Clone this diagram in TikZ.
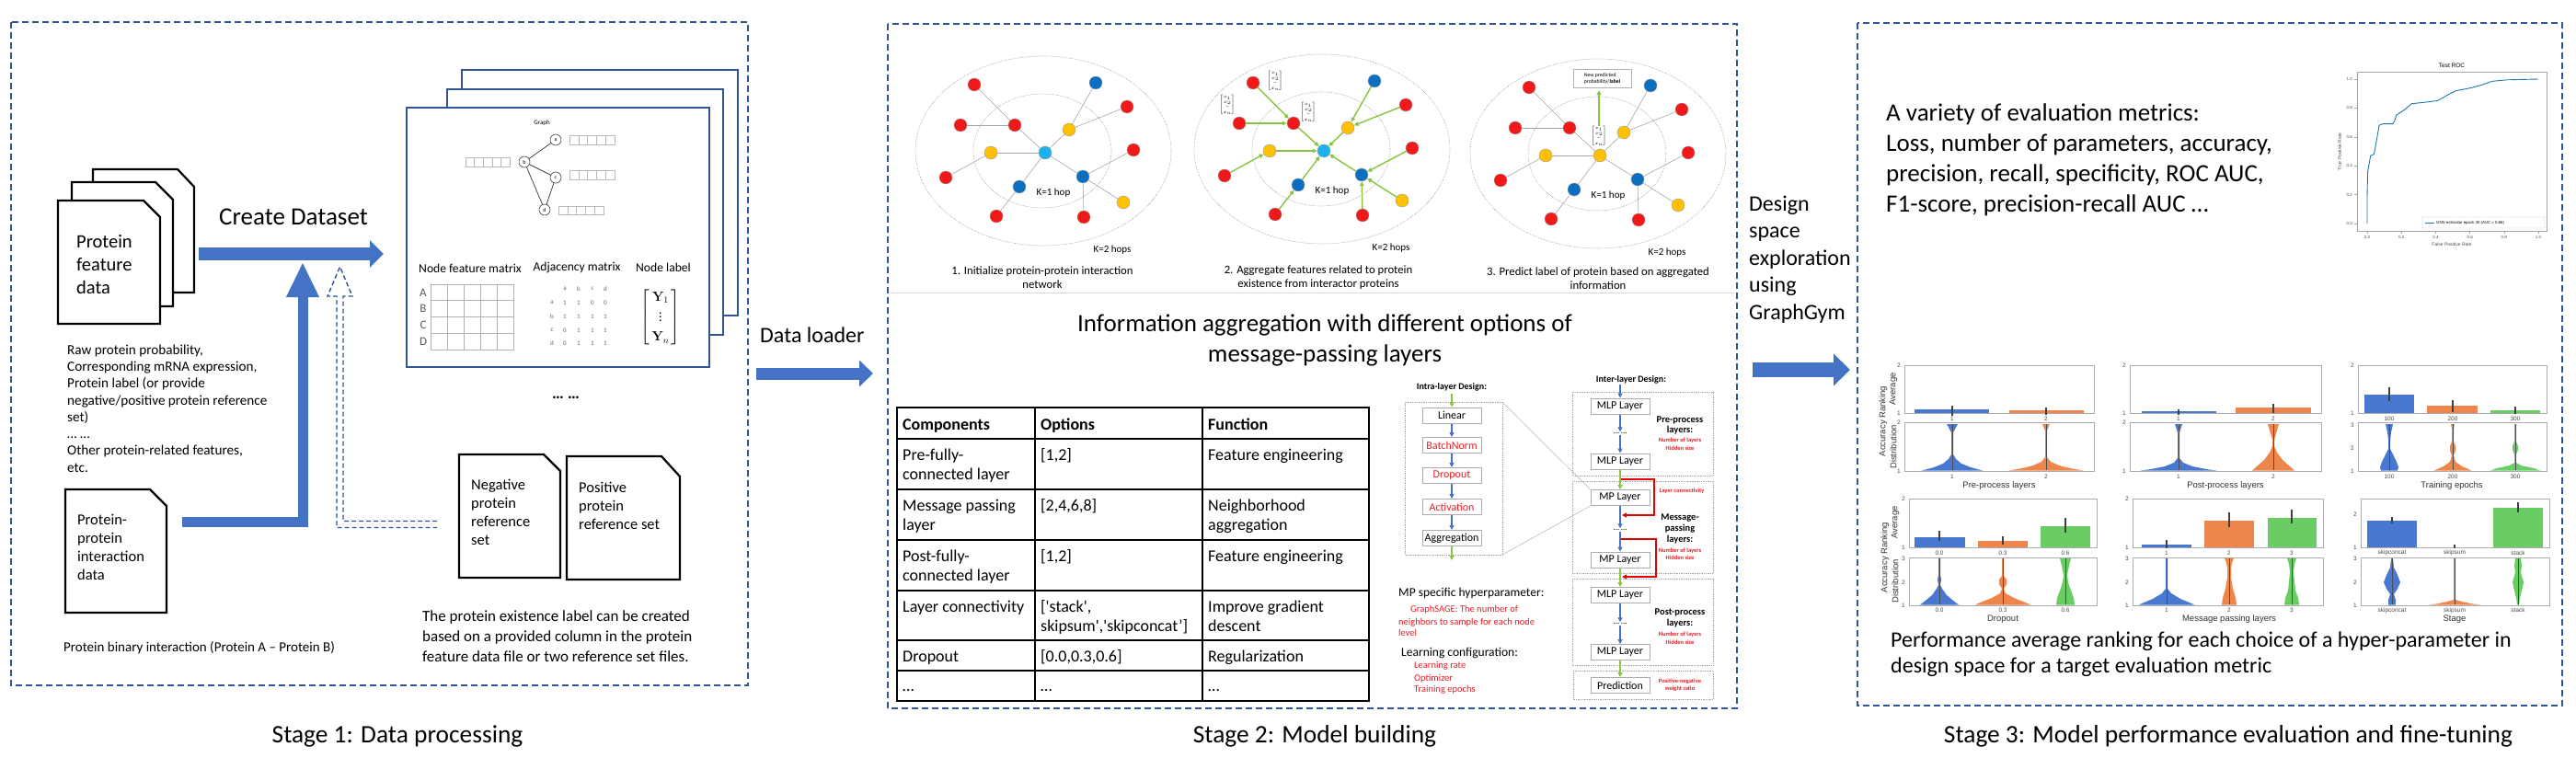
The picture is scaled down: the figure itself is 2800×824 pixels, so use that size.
\documentclass[tikz,border=0pt]{standalone}
\usepackage{amsmath}
\usepackage[no-math]{fontspec}
\setmainfont{Carlito}
\newfontfamily\plotfont{Liberation Sans}
\usetikzlibrary{arrows.meta,calc}
\definecolor{dblue}{HTML}{2F5597}
\definecolor{ablue}{HTML}{4472C4}
\definecolor{nred}{HTML}{F01818}
\definecolor{norange}{HTML}{FFC000}
\definecolor{nblue}{HTML}{0B6FC1}
\definecolor{ncyan}{HTML}{1FB1EF}
\definecolor{ngreen}{HTML}{88C540}
\definecolor{pblue}{HTML}{4878D0}
\definecolor{porange}{HTML}{EE854A}
\definecolor{pgreen}{HTML}{6ACC64}
\definecolor{rtxt}{HTML}{E41E26}
\definecolor{roc}{HTML}{1F77B4}
\newcommand\fsz[2]{\fontsize{#1}{#2}\selectfont}
\newcommand\docshape[6]{\draw[docline] (#1,#2) -- (#5,#2) -- (#3,#6) -- (#3,#4) -- (#1,#4) -- cycle;}
\newcommand\fbar[4]{%
  \draw[gray!55, line width=0.7pt] (#1,#2) rectangle (#3,#4);
  \foreach \fbi in {1,2,3,4} {\draw[gray!55, line width=0.5pt] ({#1+\fbi*(#3-#1)/5},#2) -- ({#1+\fbi*(#3-#1)/5},#4);}}
\newcommand\vio[4]{%
  \fill[#2] (#1,#3) \foreach \ww/\yy in {#4} { -- ({#1+\ww},\yy) } -- cycle;
  \fill[#2] (#1,#3) \foreach \ww/\yy in {#4} { -- ({#1-\ww},\yy) } -- cycle;}
\newcommand\fvec{\ensuremath{\left[\begin{array}{@{}c@{}}x_1\\ x_2\\ -\\ x_n\end{array}\right]}}
\newcommand\ppigraph[4]{%
\begin{scope}[shift={(#2,#3)}]
 \draw[hopring] (-2,-2) ellipse [x radius=139pt, y radius=103pt];
 \draw[hopring] (-3,-2) ellipse [x radius=75pt, y radius=62pt];
 \node[pn, fill=#4] (#1c) at (0,0) {};
 \node[pn, fill=nred] (#1R1) at (-77,-74) {};
 \node[pn, fill=nred] (#1R2) at (-92,-30) {};
 \node[pn, fill=nred] (#1R3) at (-33,-30) {};
 \node[pn, fill=norange] (#1O1) at (26,-25) {};
 \node[pn, fill=nblue] (#1B1) at (55,-76) {};
 \node[pn, fill=nred] (#1R4) at (89,-50) {};
 \node[pn, fill=norange] (#1O2) at (-59,0) {};
 \node[pn, fill=nred] (#1R5) at (-108,27) {};
 \node[pn, fill=nblue] (#1B2) at (-28,37) {};
 \node[pn, fill=nred] (#1R6) at (-53,69) {};
 \node[pn, fill=nblue] (#1B3) at (41,26) {};
 \node[pn, fill=nred] (#1R7) at (96,-3) {};
 \node[pn, fill=norange] (#1O3) at (85,54) {};
 \node[pn, fill=nred] (#1R8) at (42,70) {};
 \node[font=\fsz{11}{13}, inner sep=0] (#1k1) at (9,44) {K=1 hop};
 \node[font=\fsz{11}{13}, inner sep=0] (#1k2) at (73,106) {K=2 hops};
\end{scope}}
\newcommand\ppiedges[2]{\foreach \ppA/\ppB in {R3/c,R1/R3,R2/R3,O1/c,B1/O1,R4/O1,O2/c,R5/O2,B2/c,R6/B2,B3/c,R7/B3,O3/B3,R8/B3} {\draw[#2] (#1\ppA) -- (#1\ppB);}}
\begin{document}
\begin{tikzpicture}[x=1pt,y=-1pt,
  stagebox/.style={draw=dblue, line width=2pt, dash pattern=on 7pt off 4pt},
  stagelab/.style={font=\fsz{27.4}{32}, inner sep=0},
  docline/.style={draw=black, line width=2.2pt, fill=white, line join=miter},
  stackr/.style={draw=dblue, line width=2pt, fill=white, rectangle, inner sep=0},
  gnode/.style={circle, draw=black!75, line width=0.6pt, fill=white, minimum size=12pt, inner sep=0, font=\fsz{6}{7}},
  adjf/.style={font=\fsz{7}{8}, text=black!60, inner sep=0},
  pn/.style={circle, minimum size=14pt, inner sep=0, draw=black!40, line width=0.4pt},
  hopring/.style={draw=gray!80, line width=0.6pt, densely dotted},
  capt/.style={font=\fsz{12.7}{15}, align=center, inner sep=0},
  lbox/.style={rectangle, draw=gray!65, line width=1pt, fill=white, minimum width=64pt, minimum height=17pt, inner sep=0, font=\fsz{12}{14}},
  dotbox/.style={draw=gray!70, line width=0.7pt, densely dotted},
  garr/.style={draw=ngreen, line width=1.6pt, -{Triangle[length=5pt,width=5pt]}},
  barr/.style={draw=ablue, line width=1.6pt, -{Triangle[length=5pt,width=5pt]}},
  rarr/.style={draw=red!90!black, line width=1.5pt, -{Triangle[length=5pt,width=5pt]}},
  grp/.style={font=\bfseries\fsz{10.5}{11.8}, align=center, inner sep=0},
  rsmall/.style={font=\bfseries\fsz{6.5}{8.5}, text=rtxt, align=center, inner sep=0},
  dotsn/.style={font=\fsz{9}{10}, inner sep=1pt},
  tcell/.style={anchor=base west, inner sep=0, font=\fsz{18}{21}},
  thead/.style={anchor=base west, inner sep=0, font=\bfseries\fsz{18}{21}},
  rtx/.style={anchor=base west, inner sep=0, font=\fsz{10.5}{12.5}, text=rtxt},
  ptick/.style={font=\plotfont\fsz{6.5}{7}, text=black!70, inner sep=0},
  plab/.style={font=\plotfont\fsz{9.5}{11}, text=black!80, inner sep=0},
  pframe/.style={draw=gray!65, line width=1pt},
  errb/.style={draw=black!75, line width=1.1pt},
  vline/.style={draw=black!70, line width=0.5pt},
  rtick/.style={font=\plotfont\fsz{4.5}{5}, text=black!70, inner sep=0}
]
\fill[white] (0,0) rectangle (2800,824);
\useasboundingbox (0,0) rectangle (2800,824);

%================ Stage 1 =================
\draw[stagebox] (12,24) rectangle (813,745);
\node[stagelab] (s1lab) at (432,800) {Stage 1: Data processing};
\docshape{101}{184}{211}{318}{193}{203}
\docshape{78}{198}{188}{333}{169}{217}
\docshape{63}{218}{174}{352}{156}{236}
\node[anchor=west, inner sep=0, align=left, font=\fsz{20.5}{25}] (pfd) at (83,288) {Protein\\feature\\data};
\node[font=\fsz{27}{32}, inner sep=0] (cds) at (319,236) {Create Dataset};
\coordinate (cdA) at (216,276); \coordinate (cdB) at (417,276);
\draw[ablue, line width=14pt, -{Triangle[length=15pt,width=29pt]}] (cdA) -- (cdB);
\node[anchor=west, inner sep=0, align=left, font=\fsz{15.2}{18.3}] (raw) at (73,444) {Raw protein probability,\\Corresponding mRNA expression,\\Protein label (or provide\\negative/positive protein reference\\set)\\… …\\Other protein-related features,\\etc.};
\docshape{71}{532}{181}{666}{163}{550}
\node[anchor=west, inner sep=0, align=left, font=\fsz{16.5}{20}] (ppi) at (84,595) {Protein-\\protein\\interaction\\data};
\coordinate (ppA) at (198,567); \coordinate (ppB) at (329,567); \coordinate (ppC) at (329,285);
\draw[ablue, line width=11pt, -{Triangle[length=38pt,width=33pt]}] (ppA) -- (ppB) -- (ppC);
\coordinate (nrA) at (475,570);
\draw[dblue, line width=1.4pt, dash pattern=on 5pt off 3pt] ($(nrA)+(0,-3.5)$) -- (373,566.5) -- (373,322) -- (383,322) -- (369.5,290) -- (356,322) -- (366,322) -- (366,573.5) -- ($(nrA)+(0,3.5)$);
\node[anchor=west, inner sep=0, font=\fsz{15}{18}] (pbi) at (69,704) {Protein binary interaction (Protein A – Protein B)};

\node[stackr, minimum width=300pt, minimum height=267pt, anchor=north west] (stk3) at (501,75) {};
\node[stackr, minimum width=300pt, minimum height=267pt, anchor=north west] (stk2) at (485,96) {};
\node[stackr, minimum width=329pt, minimum height=282pt, anchor=north west] (stk1) at (441,116) {};
\node[font=\fsz{7}{8}, inner sep=0] (glab) at (589,134) {Graph};
\node[gnode] (na) at (604,152) {a};
\node[gnode] (nb) at (570,176) {b};
\node[gnode] (nc) at (604,193) {c};
\node[gnode] (nd) at (592,228) {d};
\draw[black!80, line width=0.7pt] (nb) -- (na) (nb) -- (nc) (nb) -- (nd) (nc) -- (nd);
\fbar{619}{147}{668}{157} \fbar{506}{171}{554}{181} \fbar{619}{185}{668}{195} \fbar{607}{224}{656}{233}
\node[font=\fsz{13.6}{16}, inner sep=0] (nfm) at (511,292) {Node feature matrix};
\node[font=\fsz{13.6}{16}, inner sep=0] (adjm) at (627,291) {Adjacency matrix};
\node[font=\fsz{13.6}{16}, inner sep=0] (nlab) at (721,291) {Node label};
\draw[gray!60, line width=0.8pt] (468,309) rectangle (558,380);
\foreach \fbi in {1,2,3,4} {\draw[gray!60, line width=0.8pt] ({468+\fbi*18},309) -- ({468+\fbi*18},380);}
\foreach \fbi in {1,2,3} {\draw[gray!60, line width=0.8pt] (468,{309+\fbi*17.75}) -- (558,{309+\fbi*17.75});}
\foreach \yy/\rl in {318/A,335.5/B,353.5/C,371/D} {\node[font=\fsz{13}{15}, text=black!65, inner sep=0] at (460,\yy) {\rl};}
\foreach \xx/\rl in {614/a,629/b,644/c,658/d} {\node[adjf] at (\xx,314) {\rl};}
\foreach \yy/\rl/\va/\vb/\vc/\vd in {329/a/1/1/0/0, 344/b/1/1/1/1, 359/c/0/1/1/1, 373/d/0/1/1/1} {
  \node[adjf] at (600,\yy) {\rl}; \node[adjf] at (614,\yy) {\va}; \node[adjf] at (629,\yy) {\vb};
  \node[adjf] at (644,\yy) {\vc}; \node[adjf] at (658,\yy) {\vd};}
\node[font=\fsz{14}{17}, inner sep=0] (ymat) at (718,345) {$\renewcommand\arraystretch{1.25}\left[\begin{array}{@{\,}c@{\,}}\mathbf{Y}_1\\ \vdots\\ \mathbf{Y}_n\end{array}\right]$};
\node[font=\bfseries\fsz{18}{20}, inner sep=0] (sdots) at (615,432) {… …};
\docshape{499}{494}{609}{628}{591}{512}
\node[anchor=west, inner sep=0, align=left, font=\fsz{16.5}{20}] (negt) at (512,557) {Negative\\protein\\reference\\set};
\docshape{616}{496}{739}{630}{719}{518}
\node[anchor=west, inner sep=0, align=left, font=\fsz{16.5}{20}] (post) at (629,550) {Positive\\protein\\reference set};
\node[anchor=west, inner sep=0, align=left, font=\fsz{17}{22}] (lbltxt) at (459,692) {The protein existence label can be created\\based on a provided column in the protein\\feature data file or two reference set files.};

% Data loader
\node[anchor=west, inner sep=0, font=\fsz{24}{28}] (dl) at (826,364) {Data loader};
\coordinate (dlA) at (822,406); \coordinate (dlB) at (949,406);
\draw[ablue, line width=13pt, -{Triangle[length=15pt,width=28pt]}] (dlA) -- (dlB);

%================ Stage 2 =================
\draw[stagebox] (965,26) rectangle (1888,770);
\node[stagelab] (s2lab) at (1429,800) {Stage 2: Model building};
\ppigraph{ga}{1136}{166}{ncyan}
\ppiedges{ga}{gray!70, line width=0.6pt}
\ppigraph{gb}{1439}{164}{ncyan}
\ppiedges{gb}{ngreen, line width=1.4pt, -{Triangle[length=5pt,width=4.5pt]}}
\ppigraph{gc}{1739}{169}{norange}
\ppiedges{gc}{gray!70, line width=0.6pt}
\node[font=\fsz{5}{5.5}, inner sep=0, fill=white] (gbv1) at (1334,114) {\fvec};
\node[font=\fsz{5}{5.5}, inner sep=0, fill=white] (gbv2) at (1386,88) {\fvec};
\node[font=\fsz{5}{5.5}, inner sep=0, fill=white] (gbv3) at (1422,122) {\fvec};
\node[font=\fsz{5}{5.5}, inner sep=0, fill=white] (gcv) at (1738,148) {\fvec};
\node[draw=gray!60, line width=0.5pt, minimum width=63pt, minimum height=20pt, inner sep=1pt, align=left, font=\fsz{5.8}{7}] (gcl) at (1741.5,85) {New predicted\\probability/\textbf{label}};
\draw[garr] (gcv.north) -- ($(gcv.north |- gcl.south)+(0,3)$);
\node[capt] (cap1) at (1133,301.5) {1. Initialize protein-protein interaction\\network};
\node[capt] (cap2) at (1433,301.5) {2. Aggregate features related to protein\\existence from interactor proteins};
\node[capt] (cap3) at (1737,302.5) {3. Predict label of protein based on aggregated\\information};
\draw[gray!30, line width=1pt] (968,318) -- (1886,318);
\node[align=center, font=\fsz{27}{33}, inner sep=0] (title2) at (1440,370) {Information aggregation with different options of\\message-passing layers};

% table
\draw[black, line width=1.8pt] (975,443) rectangle (1488,762);
\foreach \yy in {477,532,587,642,696,729} {\draw[black, line width=1.5pt] (975,\yy) -- (1488,\yy);}
\draw[black, line width=1.5pt] (1125,443) -- (1125,762) (1307,443) -- (1307,762);
\node[thead] (th1) at (981,467) {Components};
\node[thead] (th2) at (1131,467) {Options};
\node[thead] (th3) at (1313,467) {Function};
\node[tcell] (t11) at (981,500) {Pre-fully-};
\node[tcell] (t11b) at (981,521.5) {connected layer};
\node[tcell] (t12) at (1131,500) {[1,2]};
\node[tcell] (t13) at (1313,500) {Feature engineering};
\node[tcell] (t21) at (981,555) {Message passing};
\node[tcell] (t21b) at (981,576.5) {layer};
\node[tcell] (t22) at (1131,555) {[2,4,6,8]};
\node[tcell] (t23) at (1313,555) {Neighborhood};
\node[tcell] (t23b) at (1313,576.5) {aggregation};
\node[tcell] (t31) at (981,610) {Post-fully-};
\node[tcell] (t31b) at (981,631.5) {connected layer};
\node[tcell] (t32) at (1131,610) {[1,2]};
\node[tcell] (t33) at (1313,610) {Feature engineering};
\node[tcell] (t41) at (981,665) {Layer connectivity};
\node[tcell] (t42) at (1131,665) {[\textquotesingle stack\textquotesingle ,};
\node[tcell] (t42b) at (1131,686.5) {skipsum\textquotesingle ,\textquotesingle skipconcat’]};
\node[tcell] (t43) at (1313,665) {Improve gradient};
\node[tcell] (t43b) at (1313,686.5) {descent};
\node[tcell] (t51) at (981,719) {Dropout};
\node[tcell] (t52) at (1131,719) {[0.0,0.3,0.6]};
\node[tcell] (t53) at (1313,719) {Regularization};
\node[tcell] (t61) at (981,751) {…};
\node[tcell] (t62) at (1131,751) {…};
\node[tcell] (t63) at (1313,751) {…};

% intra-layer design
\node[font=\bfseries\fsz{10}{12}, inner sep=0] (intraT) at (1578,421) {Intra-layer Design:};
\draw[dotbox] (1527,437) rectangle (1633,603);
\node[lbox] (lin) at (1578,451.5) {Linear};
\node[lbox, text=rtxt] (bn) at (1578,484) {BatchNorm};
\node[lbox, text=rtxt] (dp) at (1578,517) {Dropout};
\node[lbox, text=rtxt] (act) at (1578,551) {Activation};
\node[lbox] (agg) at (1578,585) {Aggregation};
\coordinate (intraIn) at (1578,428); \coordinate (intraOut) at (1578,609);
\draw[garr] (intraIn) -- (lin);
\draw[barr] (lin) -- (bn);
\draw[barr] (bn) -- (dp);
\draw[barr] (dp) -- (act);
\draw[barr] (act) -- (agg);
\draw[garr] (agg) -- (intraOut);

% inter-layer design
\node[font=\bfseries\fsz{10}{12}, inner sep=0] (interT) at (1773,413) {Inter-layer Design:};
\draw[dotbox] (1709,426) rectangle (1862,517);
\draw[dotbox] (1709,523) rectangle (1862,623);
\draw[dotbox] (1709,629) rectangle (1862,723);
\draw[dotbox] (1710,729) rectangle (1862,760);
\node[lbox] (mlp1) at (1761,441.5) {MLP Layer};
\node[dotsn] (d1) at (1761,471) {… …};
\node[lbox] (mlp2) at (1761,501.5) {MLP Layer};
\node[lbox] (mp1) at (1761,541) {MP Layer};
\node[dotsn] (d2) at (1761,576) {… …};
\node[lbox] (mp2) at (1761,608.5) {MP Layer};
\node[lbox] (mlp3) at (1761,647) {MLP Layer};
\node[dotsn] (d3) at (1761,678) {… …};
\node[lbox] (mlp4) at (1761,709) {MLP Layer};
\node[lbox] (pred) at (1761,745) {Prediction};
\coordinate (interIn) at (1761,418);
\draw[barr] (interIn) -- (mlp1);
\draw[barr] (mlp1) -- (d1); \draw[barr] (d1) -- (mlp2);
\draw[garr] (mlp2) -- (mp1);
\draw[barr] (mp1) -- (d2); \draw[barr] (d2) -- (mp2);
\draw[garr] (mp2) -- (mlp3);
\draw[barr] (mlp3) -- (d3); \draw[barr] (d3) -- (mlp4);
\draw[garr] (mlp4) -- (pred);
\coordinate (rc1) at (1762,521); \coordinate (rc2) at (1763,560);
\draw[rarr] (rc1) -- (1798,521) -- (1798,560) -- (rc2);
\coordinate (rc3) at (1762,586); \coordinate (rc4) at (1763,627);
\draw[rarr] (rc3) -- (1800,586) -- (1800,627) -- (rc4);
\draw[gray!60, line width=0.5pt] (1633,437) -- (mp1.north west);
\draw[gray!60, line width=0.5pt] (1633,603) -- (mp1.south west);
\node[grp] (preL) at (1826,462.5) {Pre-process\\layers:};
\node[rsmall] (preR) at (1826,482.5) {Number of layers\\Hidden size};
\node[rsmall] (lcon) at (1828,534) {Layer connectivity};
\node[grp] (mpL) at (1826,575) {Message-\\passing\\layers:};
\node[rsmall] (mpR) at (1826,602) {Number of layers\\Hidden size};
\node[grp] (postL) at (1826,672) {Post-process\\layers:};
\node[rsmall] (postR) at (1826,693.5) {Number of layers\\Hidden size};
\node[rsmall] (predR) at (1826,745) {Positive-negative\\weight ratio};
\node[anchor=base west, inner sep=0, font=\fsz{13.5}{16}] (mph) at (1520,648.5) {MP specific hyperparameter:};
\node[rtx] (mph1) at (1533,665.5) {GraphSAGE: The number of};
\node[rtx] (mph2) at (1520,679) {neighbors to sample for each node};
\node[rtx] (mph3) at (1520,691) {level};
\node[anchor=base west, inner sep=0, font=\fsz{13.5}{16}] (lc) at (1523,713) {Learning configuration:};
\node[rtx] (lc1) at (1537,726.5) {Learning rate};
\node[rtx] (lc2) at (1537,740) {Optimizer};
\node[rtx] (lc3) at (1537,752.5) {Training epochs};

% Design space arrow
\node[anchor=west, inner sep=0, align=left, font=\fsz{24}{29.5}] (dse) at (1901,282) {Design\\space\\exploration\\using\\GraphGym};
\coordinate (dsA) at (1905,402); \coordinate (dsB) at (2011,402);
\draw[ablue, line width=16pt, -{Triangle[length=18pt,width=34pt]}] (dsA) -- (dsB);

%================ Stage 3 =================
\draw[stagebox] (2019,25) rectangle (2785,767);
\node[stagelab] (s3lab) at (2422,800) {Stage 3: Model performance evaluation and fine-tuning};
\node[anchor=west, inner sep=0, align=left, font=\fsz{27}{33}] (metrics) at (2050,174) {A variety of evaluation metrics:\\Loss, number of parameters, accuracy,\\precision, recall, specificity, ROC AUC,\\F1-score, precision-recall AUC …};
% ROC
\draw[gray!70, line width=0.8pt] (2562,78) rectangle (2768,251);
\node[font=\plotfont\fsz{6.5}{7}, inner sep=0] (roct) at (2665,71) {Test ROC};
\foreach \vv/\lb in {0/0.0,0.2/0.2,0.4/0.4,0.6/0.6,0.8/0.8,1/1.0} {
  \draw[gray!70, line width=0.5pt] (2559,{243-157*\vv}) -- (2562,{243-157*\vv});
  \node[rtick, anchor=east] at (2557,{243-157*\vv}) {\lb};
  \draw[gray!70, line width=0.5pt] ({2573+186*\vv},251) -- ({2573+186*\vv},254);
  \node[rtick] at ({2573+186*\vv},258) {\lb};}
\node[rtick, font=\plotfont\fsz{5}{6}] (rocx) at (2665,266) {False Positive Rate};
\node[rtick, font=\plotfont\fsz{5}{6}, rotate=90] (rocy) at (2543,165) {True Positive Rate};
\begin{scope}[shift={(2573,243)}, x=186pt, y=157pt]
\draw[roc, line width=0.9pt] (0,0) -- (0,.19) -- (0.003,.36) -- (.02,.47) -- (.04,.48) -- (.06,.61) -- (.07,.68) -- (.09,.69) -- (.15,.69) -- (.16,.71) -- (.17,.75) -- (.22,.79) -- (.26,.83) -- (.34,.84) -- (.41,.85) -- (.47,.89) -- (.52,.92) -- (.61,.94) -- (.67,.96) -- (.73,.985) -- (.82,.995) -- (1,1);
\end{scope}
\draw[gray!50, line width=0.4pt, rounded corners=1pt, fill=white] (2633,236) rectangle (2766,248);
\draw[roc, line width=0.8pt] (2636,242) -- (2646,242);
\node[anchor=west, inner sep=0, font=\plotfont\fsz{4.3}{5}] (rocleg) at (2648,242) {GNN estimator epoch 30 (AUC = 0.86)};

% ---- plots row 1
\foreach \fx/\fy/\gx/\gy in {2070/397/2276/449, 2315/397/2523/449, 2563/397/2768/449, 2070/459/2276/512, 2315/459/2523/512, 2563/459/2768/512, 2075/542/2279/595, 2318/542/2525/595, 2566/542/2771/595, 2075/606/2279/658, 2318/606/2525/658, 2566/606/2771/658} {\draw[pframe] (\fx,\fy) rectangle (\gx,\gy);}
% bars
\fill[pblue] (2081,445) rectangle (2162,449); \fill[porange] (2184,446) rectangle (2265,449);
\draw[errb] (2122,441) -- (2122,452); \draw[errb] (2224,443) -- (2224,451);
\fill[pblue] (2328,447) rectangle (2409,449); \fill[porange] (2430,443) rectangle (2512,449);
\draw[errb] (2368,445) -- (2368,451); \draw[errb] (2471,439) -- (2471,449);
\fill[pblue] (2570,429) rectangle (2624,449); \fill[porange] (2638,441) rectangle (2693,449); \fill[pgreen] (2707,446) rectangle (2761,449);
\draw[errb] (2597,421) -- (2597,436); \draw[errb] (2666,435) -- (2666,448); \draw[errb] (2734,442) -- (2734,450);
% violins row 1
\vio{2122}{pblue}{461}{6/461, 1/470, 1/494, 4/499, 10/504, 20/508, 33/511.5, 0/511.5}
\vio{2224}{porange}{461}{4/461, 1/468, 1/497, 5/502, 14/506, 26/509, 40/511.5, 0/511.5}
\vio{2368}{pblue}{461}{4/461, 1/470, 1/498, 5/503, 15/507, 30/510, 41/511.5, 0/511.5}
\vio{2471}{porange}{461}{6/461, 1/478, 1/485, 4/492, 10/500, 18/507, 23/511.5, 0/511.5}
\vio{2597}{pblue}{461}{4/461, 2/470, 1/478, 1/488, 4/494, 8/502, 10/508, 9/511.5, 0/511.5}
\vio{2666}{porange}{461}{2/461, 1/466, 1/480, 3/485, 3/490, 1/495, 3/502, 10/507, 17/510, 20/511.5, 0/511.5}
\vio{2734}{pgreen}{461}{1/461, 1/480, 3/485, 3/489, 1/494, 1/503, 6/506, 20/509, 27/511.5, 0/511.5}
\foreach \xx in {2122,2224,2368,2471,2597,2666,2734} {\draw[vline] (\xx,461) -- (\xx,511);}
% bars row 2
\fill[pblue] (2081,584) rectangle (2136,595); \fill[porange] (2150,588) rectangle (2204,595); \fill[pgreen] (2218,572) rectangle (2272,595);
\draw[errb] (2108,577) -- (2108,588); \draw[errb] (2177,583) -- (2177,592); \draw[errb] (2245,563) -- (2245,579);
\fill[pblue] (2328,592) rectangle (2382,595); \fill[porange] (2396,566) rectangle (2450,595); \fill[pgreen] (2465,563) rectangle (2518,595);
\draw[errb] (2355,587) -- (2355,596); \draw[errb] (2423,557) -- (2423,573); \draw[errb] (2491,554) -- (2491,569);
\fill[pblue] (2573,566) rectangle (2627,595); \fill[pgreen] (2710,552) rectangle (2764,595);
\draw[errb] (2600,562) -- (2600,569); \draw[errb] (2668,592) -- (2668,596); \draw[errb] (2737,546) -- (2737,557);
% violins row 2
\vio{2108}{pblue}{607}{1/607, 1/625, 2/630, 1/636, 3/640, 8/647, 14/652, 21/657.5, 0/657.5}
\vio{2177}{porange}{607}{1/607, 1/626, 4/630, 4/635, 1/640, 3/645, 12/650, 27/656, 30/657.5, 0/657.5}
\vio{2245}{pgreen}{607}{6/607, 4/615, 2/625, 3/633, 6/642, 9/650, 10/657.5, 0/657.5}
\vio{2355}{pblue}{607}{1/607, 1/640, 5/645, 15/651, 27/656, 30/657.5, 0/657.5}
\vio{2423}{porange}{607}{5/607, 3/612, 2/618, 2/628, 4/640, 7/650, 8/657.5, 0/657.5}
\vio{2491}{pgreen}{607}{5/607, 3/613, 2/622, 3/632, 4/642, 7/650, 8/657.5, 0/657.5}
\vio{2600}{pblue}{607}{1/607, 2/617, 6/625, 9/633, 6/640, 2/646, 4/652, 4/657.5, 0/657.5}
\vio{2668}{porange}{607}{1/607, 1/652, 8/654, 20/656.5, 27/657.5, 0/657.5}
\vio{2737}{pgreen}{607}{3/607, 4/615, 3/622, 6/633, 4/642, 2/650, 1/657.5, 0/657.5}
\foreach \xx in {2108,2177,2245,2355,2423,2491,2600,2668,2737} {\draw[vline] (\xx,607) -- (\xx,657);}
% tick labels
\foreach \xx/\lb in {2122/1,2224/2,2368/1,2471/2,2597/100,2666/200,2734/300} {\node[ptick] at (\xx,455) {\lb}; \node[ptick] at (\xx,518) {\lb};}
\foreach \xx/\lb in {2108/0.0,2177/0.3,2245/0.6,2355/1,2423/2,2491/3,2600/skipconcat,2668/skipsum,2737/stack} {\node[ptick] at (\xx,601) {\lb}; \node[ptick] at (\xx,663.5) {\lb};}
\foreach \xx/\yy/\lb in {2066/397/2,2066/449/1,2311/397/2,2311/449/1,2559/397/2,2559/449/1,
  2066/459/2,2066/512/1,2311/459/2,2311/512/1,2559/462/3,2559/487/2,2559/512/1,
  2071/542/2,2071/595/1,2314/542/2,2314/595/1,2562/559/2,2562/595/1,
  2071/607/3,2071/633/2,2071/658/1,2314/607/3,2314/633/2,2314/658/1,2562/607/3,2562/633/2,2562/658/1} {\node[ptick, anchor=east] at (\xx,\yy) {\lb};}
\node[plab] (xl1) at (2173,528) {Pre-process layers};
\node[plab] (xl2) at (2419,528) {Post-process layers};
\node[plab] (xl3) at (2665,528) {Training epochs};
\node[plab] (xl4) at (2177,673) {Dropout};
\node[plab] (xl5) at (2423,673) {Message passing layers};
\node[plab] (xl6) at (2668,673) {Stage};
\node[plab, rotate=90] (yl1) at (2047,458) {Accuracy Ranking};
\node[plab, rotate=90] (yl2) at (2058,423) {Average};
\node[plab, rotate=90] (yl3) at (2058,486) {Distribution};
\node[plab, rotate=90] (yl4) at (2049,606) {Accuracy Ranking};
\node[plab, rotate=90] (yl5) at (2060,568) {Average};
\node[plab, rotate=90] (yl6) at (2060,632) {Distribution};
\node[anchor=west, inner sep=0, align=left, font=\fsz{24}{28}] (perf) at (2055,711) {Performance average ranking for each choice of a hyper-parameter in\\design space for a target evaluation metric};
\end{tikzpicture}
\end{document}
